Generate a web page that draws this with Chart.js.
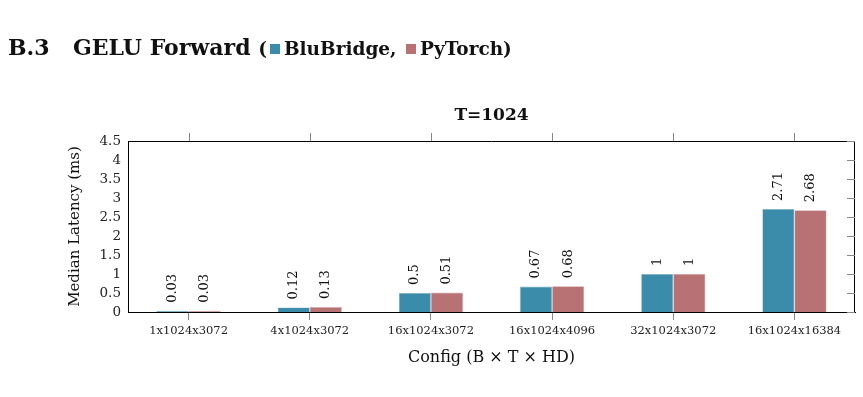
<!DOCTYPE html>
<html>
<head>
<meta charset="utf-8">
<script src="https://cdn.jsdelivr.net/npm/chart.js@4/dist/chart.umd.min.js"></script>
<style>
  html, body { margin: 0; padding: 0; background: #fff; }
  body { width: 863px; height: 397px; position: relative; overflow: hidden; font-family: "DejaVu Serif", "Liberation Serif", serif; }
  #wrap { position: absolute; left: 0; top: 0; width: 863px; height: 397px; }
  #heading { position: absolute; left: 8px; top: 34px; font-weight: bold; font-size: 22px; line-height: 26px; color: #111; white-space: nowrap; z-index: 2; }
  #heading .num { display: inline-block; width: 65px; }
  #heading .leg { font-size: 18.5px; }
  .sq { display: inline-block; width: 10px; height: 10px; margin: 0 4px 0 3px; vertical-align: 1px; }
</style>
</head>
<body>
<div id="heading"><span class="num">B.3</span>GELU Forward <span class="leg">(<span class="sq" style="background:#3b8cab"></span>BluBridge, <span class="sq" style="background:#b97274"></span>PyTorch)</span></div>
<div id="wrap"><canvas id="c" width="863" height="397"></canvas></div>
<script>
const categories = ["1x1024x3072", "4x1024x3072", "16x1024x3072", "16x1024x4096", "32x1024x3072", "16x1024x16384"];
const bluBridge = [0.03, 0.12, 0.5, 0.67, 1, 2.71];
const pyTorch = [0.03, 0.13, 0.51, 0.68, 1, 2.68];
const bluLabels = ["0.03", "0.12", "0.5", "0.67", "1", "2.71"];
const pyLabels = ["0.03", "0.13", "0.51", "0.68", "1", "2.68"];
const yTicks = [0, 0.5, 1, 1.5, 2, 2.5, 3, 3.5, 4, 4.5];
const chartTitle = "T=1024";

const SERIF = '"DejaVu Serif", "Liberation Serif", serif';

const framePlugin = {
  id: 'frame',
  afterDatasetsDraw(chart) {
    const ctx = chart.ctx;
    const a = chart.chartArea;
    const x = chart.scales.x, y = chart.scales.y;
    ctx.save();
    // top and right border
    ctx.strokeStyle = '#000';
    ctx.lineWidth = 1;
    ctx.beginPath();
    ctx.moveTo(a.left, a.top + 0.5);
    ctx.lineTo(a.right, a.top + 0.5);
    ctx.moveTo(a.right - 0.5, a.top);
    ctx.lineTo(a.right - 0.5, a.bottom);
    ctx.stroke();
    // top ticks (outward) at category centres
    ctx.strokeStyle = '#888';
    ctx.beginPath();
    categories.forEach((c, i) => {
      const px = Math.round(x.getPixelForValue(i)) + 0.5;
      ctx.moveTo(px, a.top);
      ctx.lineTo(px, a.top - 8);
    });
    // right ticks (inward)
    yTicks.forEach(v => {
      const py = Math.round(y.getPixelForValue(v)) + 0.5;
      ctx.moveTo(a.right, py);
      ctx.lineTo(a.right - 8, py);
    });
    ctx.stroke();
    // chart title
    ctx.fillStyle = '#111';
    ctx.font = 'bold 17px ' + SERIF;
    ctx.textAlign = 'center';
    ctx.textBaseline = 'middle';
    ctx.fillText(chartTitle, (a.left + a.right) / 2, 116);
    // value labels
    ctx.font = '13px ' + SERIF;
    ctx.textAlign = 'left';
    ctx.textBaseline = 'middle';
    const labelSets = [bluLabels, pyLabels];
    chart.data.datasets.forEach((ds, di) => {
      const meta = chart.getDatasetMeta(di);
      meta.data.forEach((bar, i) => {
        ctx.save();
        ctx.translate(bar.x, bar.y - 8);
        ctx.rotate(-Math.PI / 2);
        ctx.fillText(labelSets[di][i], 0, 0);
        ctx.restore();
      });
    });
    ctx.restore();
  }
};

new Chart(document.getElementById('c'), {
  type: 'bar',
  data: {
    labels: categories,
    datasets: [
      { label: 'BluBridge', data: bluBridge, backgroundColor: '#3b8cab', borderColor: '#8fbfd2', borderWidth: 0.6 },
      { label: 'PyTorch', data: pyTorch, backgroundColor: '#b97274', borderColor: '#dcaeb0', borderWidth: 0.6 }
    ]
  },
  plugins: [framePlugin],
  options: {
    responsive: false,
    animation: false,
    devicePixelRatio: 1,
    layout: { padding: { left: 0, right: 8, top: 141, bottom: 0 } },
    datasets: { bar: { categoryPercentage: 0.53, barPercentage: 1 } },
    plugins: {
      legend: { display: false },
      tooltip: { enabled: false },
      title: { display: false }
    },
    scales: {
      x: {
        grid: { display: true, drawOnChartArea: false, drawTicks: true, tickLength: 8, offset: false, color: '#888' },
        border: { display: true, color: '#000', width: 1 },
        ticks: { color: '#222', font: { family: SERIF, size: 11.5 }, padding: 4, maxRotation: 0, autoSkip: false },
        title: {
          display: true,
          text: 'Config (B × T × HD)',
          color: '#111',
          font: { family: SERIF, size: 16, lineHeight: 1.2 },
          padding: { top: 0, bottom: 30 }
        },
        afterFit(s) { s.height = 85; }
      },
      y: {
        min: 0,
        max: 4.5,
        afterBuildTicks(s) { s.ticks = yTicks.map(v => ({ value: v })); },
        grid: { display: false, drawTicks: false },
        border: { display: true, color: '#000', width: 1 },
        ticks: { color: '#222', font: { family: SERIF, size: 13.5 }, padding: 7, autoSkip: false, callback: v => String(v) },
        title: {
          display: true,
          text: 'Median Latency (ms)',
          color: '#111',
          font: { family: SERIF, size: 15, lineHeight: 1.2 },
          padding: { top: 66, bottom: 0 }
        },
        afterFit(s) { s.width = 128; }
      }
    }
  }
});
</script>
</body>
</html>
